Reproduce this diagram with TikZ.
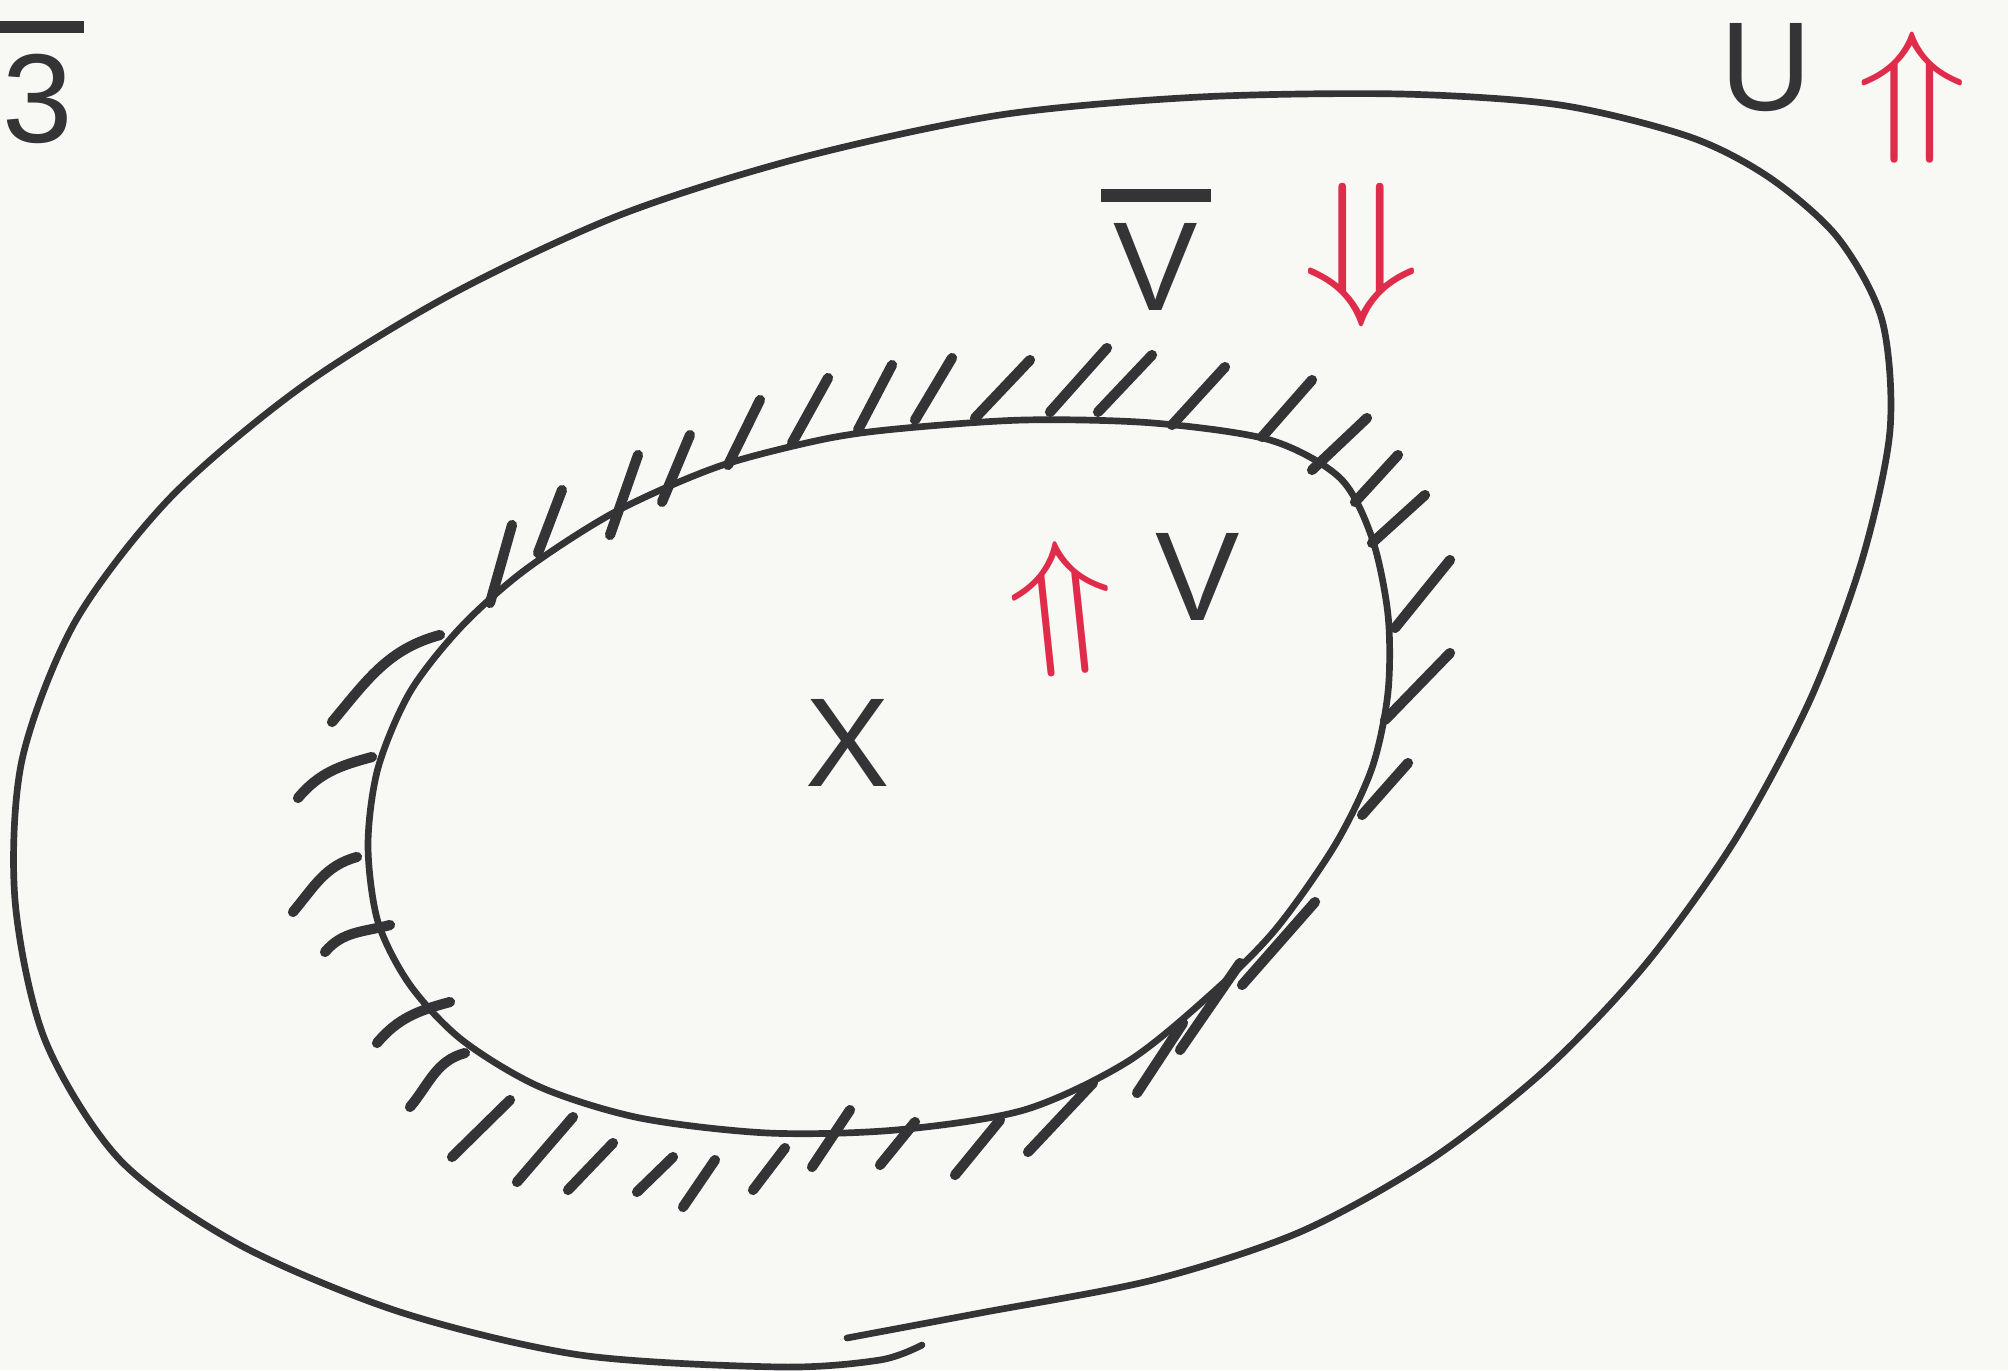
\documentclass[tikz,border=0pt]{standalone}
\usepackage{fontspec}
\setsansfont{Liberation Sans}
\usepackage{amsmath,amssymb}
\usepackage{tikz}
\usetikzlibrary{calc}
\definecolor{ink}{RGB}{52,52,54}
\definecolor{penred}{RGB}{222,44,74}
\definecolor{paper}{RGB}{248,248,244}
% a pen bar over a letter
\newcommand{\withbar}[1]{\setbox0\hbox{#1}%
  \rlap{\hbox to\wd0{\hss\rule[0.86em]{1.3\wd0}{0.1em}\hss}}\box0}

\begin{document}
\begin{tikzpicture}[x=0.1mm,y=-0.1mm,
  curve/.style={draw=ink,line width=1.9pt,line cap=round,line join=round},
  hatch/.style={draw=ink,line width=2.9pt,line cap=round},
  letter/.style={text=ink,font=\sffamily\fontsize{36}{40}\selectfont,inner sep=0pt},
  redarrow/.style={text=penred,inner sep=0pt}]
% sheet
\useasboundingbox (0,0) rectangle (2008,1370);
\fill[paper] (0,0) rectangle (2008,1370);
% outer set U, the two ends overlap at the bottom
\draw[curve] plot[smooth] coordinates {
  (847,1338)(980,1313)(1153,1280)(1300,1232)(1430,1160)(1545,1070)
  (1645,965)(1735,840)(1810,700)(1862,560)(1890,430)(1882,320)
  (1838,238)(1770,178)(1690,137)(1560,105)(1400,94)(1200,97)
  (1000,115)(800,158)(620,215)(450,295)(300,388)(170,498)
  (75,622)(22,760)(15,900)(45,1040)(120,1160)(240,1245)
  (400,1312)(580,1355)(780,1367)(880,1360)(922,1345)};
% inner set V
\draw[curve] plot[smooth cycle] coordinates {
  (896,429)(1024,420)(1153,423)(1270,440)(1340,478)(1372,538)
  (1388,615)(1388,692)(1372,768)(1335,845)(1275,930)(1210,995)
  (1127,1062)(1024,1110)(896,1130)(768,1133)(640,1118)(540,1087)
  (462,1040)(410,985)(378,922)(368,845)(378,768)(410,692)
  (461,627)(525,570)(615,512)(717,467)(820,440)};
% hatching of the closure: straight strokes
\foreach \xa/\ya/\xb/\yb in {
  490/603/512/525, 538/553/562/490, 610/535/638/455, 662/502/690/435,
  728/465/760/400, 792/443/828/378, 858/430/892/365, 915/420/952/358,
  975/418/1030/360, 1050/412/1107/348, 1098/412/1152/355, 1172/425/1225/367,
  1262/437/1312/380, 1312/470/1367/418, 1355/502/1398/455, 1372/543/1425/495,
  1395/628/1450/560, 1385/720/1450/653, 1362/815/1408/763, 1242/985/1315/902,
  1180/1050/1240/963, 1137/1093/1183/1023, 1028/1152/1093/1083, 955/1175/1000/1120,
  880/1165/915/1122, 812/1167/850/1110, 753/1190/785/1148, 683/1207/715/1160,
  637/1192/673/1157, 568/1190/613/1143, 517/1182/573/1117, 452/1157/510/1100}
  \draw[hatch] (\xa,\ya) -- (\xb,\yb);
% hatching on the left: hooked strokes
\foreach \xa/\ya/\xb/\yb in {
  332/722/440/635, 298/798/372/757, 293/912/357/857,
  325/952/390/925, 377/1043/450/1002, 410/1107/465/1053}
  \draw[hatch] (\xa,\ya) to[out=50,in=195] (\xb,\yb);
% labels
\node[letter] (labthree) at (38,82) {\withbar{3}};
\node[letter] (labU) at (1766,68) {U};
\node[letter] (labVbar) at (1156,250) {\withbar{V}};
\node[letter] (labV) at (1198,577) {V};
\node[letter] (labX) at (848,743) {X};
% red arrows
\node[redarrow] (arrU) at (1912,98) {\scalebox{5.2}[4.2]{$\Uparrow$}};
\node[redarrow] (arrVbar) at (1362,255) {\scalebox{5.5}[4.6]{$\Downarrow$}};
\node[redarrow,rotate=6] (arrV) at (1062,608) {\scalebox{5}[4.3]{$\Uparrow$}};
\end{tikzpicture}
\end{document}
